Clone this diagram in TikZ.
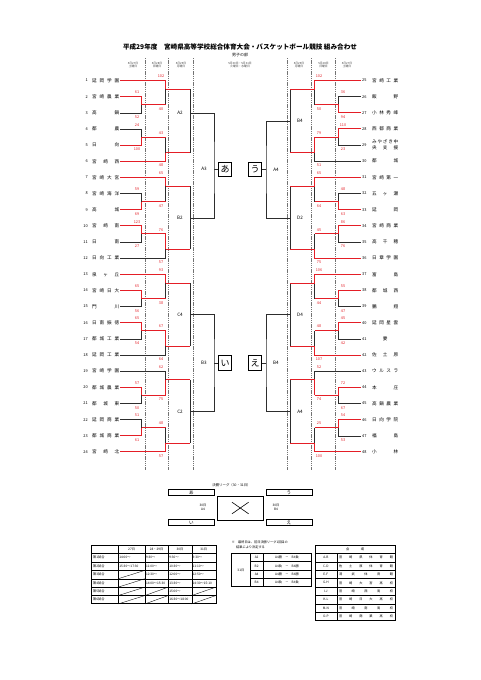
\documentclass[tikz,border=0pt]{standalone}
\usepackage{fontspec}
\setmainfont{Noto Sans CJK JP}
\usetikzlibrary{positioning}
\definecolor{WinRed}{RGB}{228,30,38}
\definecolor{LineDark}{RGB}{45,45,45}

\tikzset{
  win/.style={draw=WinRed, line width=1pt},
  lose/.style={draw=LineDark, line width=0.5pt},
  score/.style={text=WinRed, font=\fontsize{3.8}{4}\selectfont, inner sep=0pt},
  teamname/.style={font=\fontsize{4.6}{5}\selectfont, inner ysep=0pt, inner xsep=0.6pt},
  teamnum/.style={font=\fontsize{3.9}{5}\selectfont, inner ysep=0pt, inner xsep=1.5pt},
  blocklabel/.style={font=\fontsize{4.6}{5}\selectfont, inner sep=0pt},
  daylabel/.style={font=\fontsize{2.8}{3.6}\selectfont, text=black!75, align=center, inner sep=0pt},
  dayline/.style={draw=black!55, line width=0.35pt, dash pattern=on 1.3pt off 0.9pt},
  finalbox/.style={draw, line width=1pt, minimum width=13.4pt, minimum height=14.6pt, inner sep=0pt, font=\fontsize{9}{9}\selectfont},
  leaguebar/.style={draw, line width=0.8pt, minimum width=46pt, minimum height=5.5pt, inner sep=0pt, font=\fontsize{4.6}{4.6}\selectfont},
  cell/.style={font=\fontsize{3.2}{3.8}\selectfont, inner sep=0pt},
  tabline/.style={line width=0.35pt},
  tabframe/.style={line width=0.85pt}
}

% one bracket segment, drawn only in its own pass (0 black, 1 red)
\newcommand{\bseg}[2]{\ifnum#1=\pass\relax\ifnum#1=1 \draw[win] #2;\else\draw[lose] #2;\fi\fi}
\newcommand{\shienname}{\begin{tabular}{@{}l@{}}\makebox[26pt][s]{み や ざ き 中}\\[1.2pt]\makebox[26pt][s]{央 支 援}\end{tabular}}

\begin{document}
\begin{tikzpicture}[x=1pt, y=-1pt]
    \fill[white] (0,0) rectangle (481,680);
    \useasboundingbox (0,0) rectangle (481,680);

    % Title
    \node[font=\fontsize{6.6}{7}\selectfont\bfseries] (title) at (240,46.5) {平成29年度　宮崎県高等学校総合体育大会・バスケットボール競技 組み合わせ};
    \node[font=\fontsize{4}{5}\selectfont] (subtitle) at (240,55) {男子の部};

    % Days
    \foreach \x/\d/\w [count=\i] in {133/27/土, 157/28/日, 181/29/月, 299/29/月, 323.5/28/日, 347/27/土}
      \node[daylabel] (day\i) at (\x,65) {5月\d 日\\\w 曜日};
    \node[daylabel] (daymid) at (240,65) {5月30日・5月31日\\火曜日・水曜日};
    \foreach \x in {145,168.5,193,287,311.5,335}
      \draw[dayline] (\x,58) -- (\x,470);

    % Left teams
    \foreach \n/\nm in {1/延 岡 学 園, 2/宮 崎 農 業, 3/高 鍋, 4/都 農, 5/日 向, 6/宮 崎 西,
      7/宮 崎 大 宮, 8/宮 崎 海 洋, 9/高 城, 10/宮 崎 南, 11/日 南, 12/日 向 工 業,
      13/泉 ヶ 丘, 14/宮 崎 日 大, 15/門 川, 16/日 南 振 徳, 17/都 城 工 業, 18/延 岡 工 業,
      19/宮 崎 学 園, 20/都 城 農 業, 21/都 城 東, 22/延 岡 商 業, 23/都 城 商 業, 24/宮 崎 北}{
      \pgfmathsetmacro\yy{80.5+(\n-1)*16.15}
      \node[teamnum, anchor=east] (nm\n) at (89.5,\yy) {\n};
      \node[teamname, anchor=west] (t\n) at (91.4,\yy) {\makebox[27pt][s]{\nm}};
    }

    % Right teams
    \foreach \n/\nm in {25/宮 崎 工 業, 26/飯 野, 27/小 林 秀 峰, 28/西 都 商 業, 29/\shienname, 30/都 城,
      31/宮 崎 第 一, 32/五 ヶ 瀬, 33/延 岡, 34/宮 崎 商 業, 35/高 千 穂, 36/日 章 学 園,
      37/富 島, 38/都 城 西, 39/鵬 翔, 40/延 岡 星 雲, 41/\hfill 妻\hfill, 42/佐 土 原,
      43/ウ ル ス ラ, 44/本 庄, 45/高 鍋 農 業, 46/日 向 学 院, 47/福 島, 48/小 林}{
      \pgfmathsetmacro\yy{80.5+(\n-25)*16.15}
      \node[teamnum, anchor=west] (t\n) at (360.5,\yy) {\n};
      \node[teamname, anchor=west] (nm\n) at (371.4,\yy) {\makebox[26pt][s]{\nm}};
    }

    % Blocks of six, black lines first then red
    \foreach \pass in {0,1}{
    \foreach \f/\s/\lab/\dz/\qa/\qb/\qc/\qd/\qe/\qg/\qh/\qk/\wA/\wB/\wC/\wD in {
       1/1/A2/-7.7/61/52/24/100/102/40/43/48/1/2/1/2,
       7/1/B2/0/59/69/123/27/65/47/76/57/2/1/1/1,
      13/1/C4/0/65/56/65/54/93/38/67/64/1/1/1/1,
      19/1/C2/0/57/50/51/61/62/75/48/57/1/2/2/2,
      25/-1/B4/0/36/94/110/23/102/50/79/51/2/1/1/1,
      31/-1/D2/0/48/63/86/76/65/64/45/75/2/1/1/2,
      37/-1/D4/0/55/47/45/42/106/44/48/107/1/1/1/2,
      43/-1/A4/0/72/67/54/53/52/74/25/100/1/1/2/2}{
      \pgfmathtruncatemacro\rw{\s>0 ? \f : \f-24}
      \pgfmathsetmacro\yA{80.5+(\rw-1)*16.15}
      \pgfmathsetmacro\yB{\yA+16.15}
      \pgfmathsetmacro\yC{\yA+32.3}
      \pgfmathsetmacro\yD{\yA+48.45}
      \pgfmathsetmacro\yE{\yA+64.6}
      \pgfmathsetmacro\yF{\yA+80.75}
      \pgfmathsetmacro\ma{(\yB+\yC)/2}
      \pgfmathsetmacro\mb{(\yD+\yE)/2}
      \pgfmathsetmacro\na{\yA+0.36*(\ma-\yA)}
      \pgfmathsetmacro\nb{\mb+0.64*(\yF-\mb)}
      \pgfmathsetmacro\oo{(\na+\nb)/2+\dz}
      \pgfmathsetmacro\xa{240-(\s)*98.5}
      \pgfmathsetmacro\xb{240-(\s)*74.5}
      \pgfmathsetmacro\xc{240-(\s)*50}
      \pgfmathtruncatemacro\ka{\f}
      \pgfmathtruncatemacro\kb{\f+1}
      \pgfmathtruncatemacro\kc{\f+2}
      \pgfmathtruncatemacro\kd{\f+3}
      \pgfmathtruncatemacro\ke{\f+4}
      \pgfmathtruncatemacro\kf{\f+5}
      \ifnum\s>0 \def\an{east}\else\def\an{west}\fi
      \pgfmathtruncatemacro\sA{\wA==1}
      \pgfmathtruncatemacro\sB{\wA==2}
      \pgfmathtruncatemacro\sC{\wB==1}
      \pgfmathtruncatemacro\sD{\wB==2}
      \pgfmathtruncatemacro\sE{\wC==1}
      \pgfmathtruncatemacro\sG{\wC==2}
      \pgfmathtruncatemacro\sH{\wD==1}
      \pgfmathtruncatemacro\sK{\wD==2}
      \coordinate (ra\f) at (\xa,\ma);
      \coordinate (rb\f) at (\xa,\mb);
      \coordinate (sa\f) at (\xb,\na);
      \coordinate (sb\f) at (\xb,\nb);
      \coordinate (u\f) at (\xc,\oo);
      % first day
      \bseg{\sA}{(t\kb.\an) -- (t\kb.\an -| ra\f) -- (ra\f)}
      \bseg{\sB}{(t\kc.\an) -- (t\kc.\an -| ra\f) -- (ra\f)}
      \bseg{\sC}{(t\kd.\an) -- (t\kd.\an -| rb\f) -- (rb\f)}
      \bseg{\sD}{(t\ke.\an) -- (t\ke.\an -| rb\f) -- (rb\f)}
      \bseg{1}{(ra\f) -- (ra\f -| sa\f)}
      \bseg{1}{(rb\f) -- (rb\f -| sb\f)}
      % second day
      \bseg{\sE}{(t\ka.\an) -- (t\ka.\an -| sa\f) -- (sa\f)}
      \bseg{\sG}{(ra\f -| sa\f) -- (sa\f)}
      \bseg{\sH}{(rb\f -| sb\f) -- (sb\f)}
      \bseg{\sK}{(t\kf.\an) -- (t\kf.\an -| sb\f) -- (sb\f)}
      \bseg{1}{(sa\f) -- (sa\f -| u\f)}
      \bseg{1}{(sb\f) -- (sb\f -| u\f)}
      % third day
      \bseg{0}{(sa\f -| u\f) -- (sb\f -| u\f)}
      \ifnum\pass=1
        \pgfmathsetmacro\xs{240-(\s)*103}
        \pgfmathsetmacro\xt{240-(\s)*79}
        \pgfmathsetmacro\xl{240-(\s)*60}
        \node[score] (qa\f) at (\xs,\yB-4.2) {\qa};
        \node[score] (qb\f) at (\xs,\yC+4.2) {\qb};
        \node[score] (qc\f) at (\xs,\yD-4.2) {\qc};
        \node[score] (qd\f) at (\xs,\yE+4.2) {\qd};
        \node[score] (qe\f) at (\xt,\yA-4.2) {\qe};
        \node[score] (qg\f) at (\xt,\ma+4.2) {\qg};
        \node[score] (qh\f) at (\xt,\mb-4.2) {\qh};
        \node[score] (qk\f) at (\xt,\yF+4.2) {\qk};
        \node[blocklabel] (lab\f) at (\xl,\oo) {\lab};
      \fi
    }}

    % Fourth round and the four finalists
    \foreach \ua/\ub/\rw/\s/\lab/\ch [count=\i] in {1/7/1/1/A3/あ, 13/19/13/1/B3/い, 25/31/1/-1/A4/う, 37/43/13/-1/B4/え}{
      \pgfmathsetmacro\yw{80.5+(\rw+4.5)*16.15}
      \coordinate (w\i) at ({240-(\s)*26},\yw);
      \node[finalbox] (box\i) at ({240-(\s)*15},\yw) {\ch};
      \node[blocklabel] (top\i) at ({240-(\s)*36},\yw) {\lab};
      \draw[lose] (u\ua) -| (w\i) |- (u\ub);
      \draw[lose] (w\i) -- (box\i);
    }

    % Final league
    \node[cell, font=\fontsize{3.4}{4}\selectfont] (lgtitle) at (231.5,485.6) {決勝リーグ（30・31日）};
    \foreach \x/\y/\ch/\nm in {191.3/492.5/あ/lga, 289/492.5/う/lgu, 191.3/522.5/い/lgi, 289/522.5/え/lge}
      \node[leaguebar] (\nm) at (\x,\y) {\ch};
    \node[draw, line width=0.5pt, minimum width=46pt, minimum height=24pt, inner sep=0pt] (lgbox) at (240.3,508) {};
    \draw[line width=0.6pt] (lgbox.center) ++(-8.3,-5.8) -- ++(16.6,11.6);
    \draw[line width=0.6pt] (lgbox.center) ++(-8.3,5.8) -- ++(16.6,-11.6);
    \node[cell, align=center] (lgl) at (203,507.5) {30日\\A4};
    \node[cell, align=center] (lgr) at (276,507.5) {30日\\B4};

    % Schedule table
    \draw[tabframe] (91,545) rectangle (216,603.9);
    \draw[tabframe] (91,553.5) -- (216,553.5);
    \foreach \x in {118.3,145,168.3,191.7} \draw[tabline] (\x,545) -- (\x,603.9);
    \foreach \rr in {1,...,5} \draw[tabline] (91,553.5+\rr*8.4) -- (216,553.5+\rr*8.4);
    \foreach \tx/\x [count=\i] in {27日/131.6, 28・29日/156.6, 30日/180, 31日/203.8}
      \node[cell] (hd\i) at (\x,549.3) {\tx};
    \foreach \rr in {1,...,6}
      \node[cell, anchor=west] (gno\rr) at (93,549.3+\rr*8.4) {第\rr 試合};
    \foreach \cc/\rr/\tx [count=\i] in {1/1/14:00〜, 2/1/9:30〜, 3/1/9:30〜, 4/1/9:30〜,
      1/2/15:30〜17:30, 2/2/11:00〜, 3/2/10:30〜, 4/2/11:10〜,
      2/3/12:30〜, 3/3/12:00〜, 4/3/12:50〜,
      2/4/14:00〜15:30, 3/4/13:30〜, 4/4/14:30〜15:10,
      3/5/15:00〜, 3/6/16:30〜18:00}{
      \pgfmathsetmacro\xx{{91,118.3,145,168.3,191.7,216}[\cc]}
      \node[cell, anchor=west] (tm\i) at (\xx+0.8,549.3+\rr*8.4) {\tx};
    }
    \foreach \cc/\rr in {1/3,1/4,1/5,1/6,2/5,2/6,4/5,4/6}{
      \pgfmathsetmacro\xx{{91,118.3,145,168.3,191.7,216}[\cc]}
      \pgfmathsetmacro\xy{{91,118.3,145,168.3,191.7,216}[\cc+1]}
      \draw[tabline] (\xx,545.1+\rr*8.4+8.4) -- (\xy,545.1+\rr*8.4);
    }

    % Last day table
    \node[cell, anchor=west] (note1) at (231.5,542.6) {※　最終日は、前日決勝リーグ1回目の};
    \node[cell, anchor=west] (note2) at (236,547.4) {結果により決定する};
    \draw[tabframe] (231.7,553.3) rectangle (311,586.7);
    \draw[tabline] (250,553.3) -- (250,586.7) (263.3,553.3) -- (263.3,586.7);
    \foreach \kk in {1,2,3} \draw[tabline] (250,553.3+\kk*8.35) -- (311,553.3+\kk*8.35);
    \node[cell] (day31) at (240.85,570) {31日};
    \foreach \g/\m [count=\kk] in {A2/A4勝　－　B4負, B2/A4負　－　B4勝, A4/A4勝　－　B4勝, B4/A4負　－　B4負}{
      \node[cell] (gm\kk) at (256.65,549.125+\kk*8.35) {\g};
      \node[cell] (mt\kk) at (287,549.125+\kk*8.35) {\m};
    }

    % Venues
    \draw[tabframe] (315,545) rectangle (395,620.7);
    \draw[tabframe] (315,553.3) -- (395,553.3);
    \draw[tabline] (336.7,553.3) -- (336.7,620.7);
    \foreach \kk in {1,...,7} \draw[tabline] (315,553.3+\kk*8.425) -- (395,553.3+\kk*8.425);
    \node[cell] (venuehd) at (355,549.2) {\makebox[18pt][s]{会 場}};
    \foreach \cd/\vn [count=\kk] in {A-B/宮 崎 県 体 育 館, C-D/佐 土 原 体 育 館, E-F/清 武 体 育 館,
      G-H/宮 崎 大 宮 高 校, I-J/宮 崎 西 高 校, K-L/宮 崎 日 大 高 校, M-N/宮 崎 南 高 校, O-P/宮 崎 商 業 高 校}{
      \node[cell] (cd\kk) at (325.85,549.1+\kk*8.425) {\cd};
      \node[cell] (vn\kk) at (366,549.1+\kk*8.425) {\makebox[54pt][s]{\vn}};
    }
\end{tikzpicture}
\end{document}
